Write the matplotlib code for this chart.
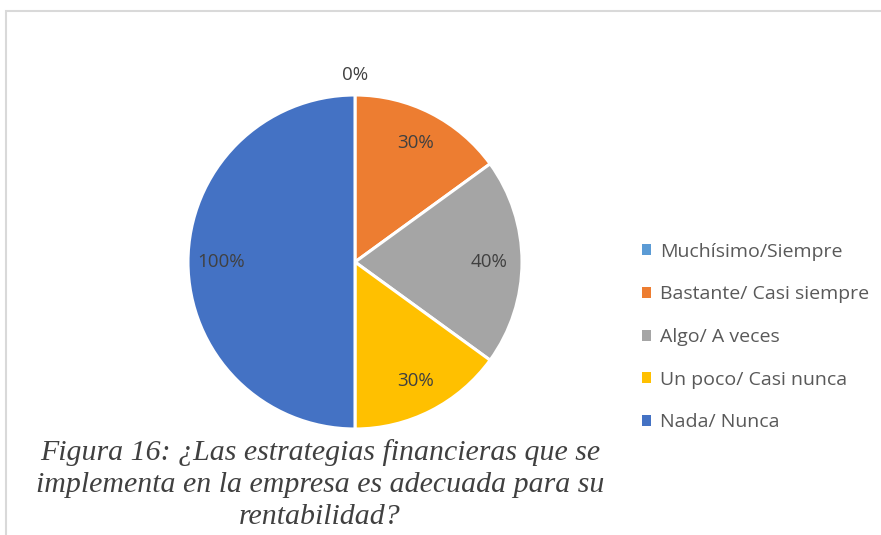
import matplotlib
matplotlib.use("Agg")
import matplotlib.pyplot as plt
from matplotlib.patches import Rectangle
import numpy as np

categories = ["Muchísimo/Siempre", "Bastante/ Casi siempre", "Algo/ A veces",
              "Un poco/ Casi nunca", "Nada/ Nunca"]
values = [0, 30, 40, 30, 100]
colors = ["#5B9BD5", "#ED7D31", "#A5A5A5", "#FFC000", "#4472C4"]
caption = ("Figura 16: ¿Las estrategias financieras que se\n"
           "implementa en la empresa es adecuada para su\n"
           "rentabilidad?")

W, H = 881, 535
fig = plt.figure(figsize=(W / 100, H / 100), dpi=100)
fig.patch.set_facecolor("white")

# light frame
fig.patches.append(Rectangle((5.5 / W, -0.05), 1.2, 1 - 10.5 / H + 0.05,
                             transform=fig.transFigure, fill=False,
                             edgecolor="#D9D9D9", linewidth=1.5))

cx, cy, R = 355, 262, 167
ax = fig.add_axes([(cx - R) / W, (H - cy - R) / H, 2 * R / W, 2 * R / H])
wedges, _ = ax.pie(values, startangle=90, counterclock=False, colors=colors,
                   wedgeprops=dict(edgecolor="white", linewidth=2.2))
ax.set_xlim(-1, 1)
ax.set_ylim(-1, 1)
ax.set_aspect("equal")
ax.axis("off")

for w, v in zip(wedges, values):
    th = np.deg2rad((w.theta1 + w.theta2) / 2)
    r = 0.8 if v > 0 else 1.12
    ax.text(r * np.cos(th), r * np.sin(th), f"{v}%", ha="center", va="center",
            fontsize=13.5, color="#404040", family="Open Sans", clip_on=False)

leg = fig.legend(wedges, categories, loc="center left",
                 bbox_to_anchor=(624 / W, 1 - 337 / H), frameon=False,
                 handlelength=0.5, handleheight=0.5, handletextpad=0.45,
                 labelspacing=1.27, prop=dict(family="Open Sans", size=14))
for t in leg.get_texts():
    t.set_color("#595959")
for h in leg.legend_handles:
    h.set_edgecolor("none")

fig.text(320 / W, 1 - 485 / H, caption, ha="center", va="center",
         family="Liberation Serif", style="italic", fontsize=21.5,
         color="#404040", linespacing=1.3)

fig.savefig("out.png", dpi=100, facecolor="white")
